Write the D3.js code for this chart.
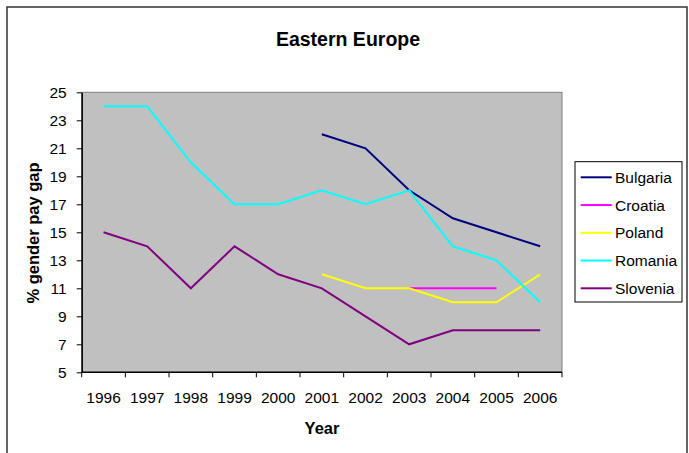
<!DOCTYPE html>
<html>
<head>
<meta charset="utf-8">
<script src="https://cdn.jsdelivr.net/npm/d3@7/dist/d3.min.js"></script>
<style>
  html, body { margin: 0; padding: 0; background: #fff; }
  svg { display: block; font-family: "Liberation Sans", Arial, sans-serif; }
</style>
</head>
<body>
<svg id="chart" width="689" height="453"></svg>
<script>
const years = ["1996","1997","1998","1999","2000","2001","2002","2003","2004","2005","2006"];
const yTicks = [5,7,9,11,13,15,17,19,21,23,25];
const seriesNames = ["Bulgaria","Croatia","Poland","Romania","Slovenia"];
const seriesColors = ["#000080","#FF00FF","#FFFF00","#00FFFF","#800080"];
const bulgaria = [null,null,null,null,null,22,21,18,16,15,14];
const croatia  = [null,null,null,null,null,null,null,11,11,11,null];
const poland   = [null,null,null,null,null,12,11,11,10,10,12];
const romania  = [24,24,20,17,17,18,17,18,14,13,10];
const slovenia = [15,14,11,14,12,11,9,7,8,8,8];
const seriesValues = [bulgaria, croatia, poland, romania, slovenia];

const svg = d3.select("#chart");

// outer chart border
svg.append("rect").attr("x", 7).attr("y", 7).attr("width", 680).attr("height", 460)
  .attr("fill", "#fff").attr("stroke", "#333").attr("stroke-width", 1.5);

const L = 81.7, R = 562, T = 92.3, B = 372.3;
const x = d3.scaleBand().domain(years).range([L, R]).padding(0);
const y = d3.scaleLinear().domain([5, 25]).range([B, T]);

// plot area
svg.append("rect").attr("x", L).attr("y", T).attr("width", R - L).attr("height", B - T)
  .attr("fill", "#C0C0C0").attr("stroke", "#808080").attr("stroke-width", 1);

// title
svg.append("text").attr("x", 348).attr("y", 46).attr("text-anchor", "middle")
  .attr("font-size", 19.5).attr("font-weight", "bold").text("Eastern Europe");

// y axis
const yAxis = svg.append("g").attr("transform", `translate(${L},0)`)
  .call(d3.axisLeft(y).tickValues(yTicks).tickSize(5).tickPadding(10).tickSizeOuter(0));
yAxis.select(".domain").attr("stroke", "#000").attr("stroke-width", 1.5);
yAxis.selectAll(".tick line").attr("stroke", "#000");
yAxis.selectAll("text").attr("font-size", 15.5).attr("fill", "#000")
  .attr("font-family", "Liberation Sans, Arial, sans-serif");

// x axis labels
const xAxis = svg.append("g").attr("transform", `translate(0,${B})`)
  .call(d3.axisBottom(x).tickSize(0).tickPadding(20));
xAxis.select(".domain").remove();
xAxis.selectAll("text").attr("font-size", 15.5).attr("fill", "#000")
  .attr("font-family", "Liberation Sans, Arial, sans-serif");
// x axis line and boundary ticks
svg.append("line").attr("x1", L).attr("x2", R).attr("y1", B).attr("y2", B)
  .attr("stroke", "#000").attr("stroke-width", 1.5);
const bounds = years.map(d => x(d)).concat([x.range()[1]]);
svg.append("g").selectAll("line").data(bounds).join("line")
  .attr("x1", d => d).attr("x2", d => d).attr("y1", B).attr("y2", B + 5)
  .attr("stroke", "#000").attr("stroke-width", 1);

// axis titles
svg.append("text").attr("x", 322).attr("y", 434).attr("text-anchor", "middle")
  .attr("font-size", 16.5).attr("font-weight", "bold").text("Year");
svg.append("text").attr("transform", "translate(39,233) rotate(-90)").attr("text-anchor", "middle")
  .attr("font-size", 16.5).attr("font-weight", "bold").text("% gender pay gap");

// lines
const line = d3.line()
  .defined(d => d.v !== null)
  .x(d => x(d.year) + x.bandwidth() / 2)
  .y(d => y(d.v));
seriesNames.forEach((name, i) => {
  const data = years.map((yr, j) => ({ year: yr, v: seriesValues[i][j] }));
  svg.append("path").datum(data).attr("d", line)
    .attr("fill", "none").attr("stroke", seriesColors[i]).attr("stroke-width", 2);
});

// legend
const lg = svg.append("g");
lg.append("rect").attr("x", 575).attr("y", 161.7).attr("width", 107).attr("height", 140.3)
  .attr("fill", "#fff").attr("stroke", "#000").attr("stroke-width", 1);
seriesNames.forEach((name, i) => {
  const yy = 177.3 + i * 27.75;
  lg.append("line").attr("x1", 580.7).attr("x2", 611.7).attr("y1", yy).attr("y2", yy)
    .attr("stroke", seriesColors[i]).attr("stroke-width", 2);
  lg.append("text").attr("x", 615).attr("y", yy + 5.5).attr("font-size", 15.5).text(name);
});
</script>
</body>
</html>
